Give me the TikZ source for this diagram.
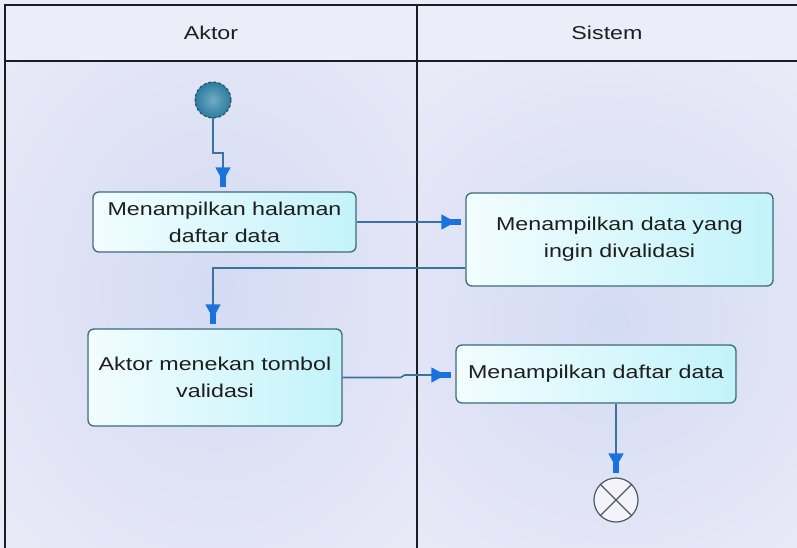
\documentclass[tikz,border=0pt]{standalone}
\usepackage{fontspec}
\setmainfont{Liberation Sans}
\newfontfamily\lblfont[FakeStretch=1.25]{Liberation Sans}
\usetikzlibrary{arrows.meta}

\definecolor{lanebg}{HTML}{ECEBF8}
\definecolor{headbg}{HTML}{EDEDFA}
\definecolor{glow}{HTML}{D3DBF3}
\definecolor{frameline}{HTML}{1C1C22}
\definecolor{boxline}{HTML}{3E6A7A}
\definecolor{boxleft}{HTML}{F2FDFF}
\definecolor{boxright}{HTML}{C3F3FA}
\definecolor{flowline}{HTML}{3B72A0}
\definecolor{flowtip}{HTML}{1C72DC}
\definecolor{startfill}{HTML}{2A7CA0}
\definecolor{startline}{HTML}{1F4A62}
\definecolor{endline}{HTML}{4C5A62}
\definecolor{txt}{HTML}{1E1E1E}

\begin{document}
\begin{tikzpicture}[x=1pt,y=-1pt,
  lbl/.style={font=\lblfont\fontsize{18.6}{27}\selectfont, text=txt},
  activity/.style={lbl, draw=boxline, line width=1.3pt, rounded corners=6pt,
    left color=boxleft, right color=boxright, align=center, inner sep=0pt},
  flow/.style={draw=flowline, line width=1.6pt,
    -{Triangle[length=14pt,width=15pt,sep=-5pt,color=flowtip,fill=flowtip]Rectangle[length=11pt,width=6pt,color=flowtip,fill=flowtip]},
    shorten >=4pt},
  frame/.style={draw=frameline, line width=1.6pt}]

% canvas and swimlane backgrounds
\useasboundingbox (0,0) rectangle (797,548);
\fill[lanebg] (0,0) rectangle (797,548);

% soft glows behind the activities
\begin{scope}
  \clip (5,61) rectangle (417,548);
  \shade[inner color=glow, outer color=lanebg] (-115,-110) rectangle (545,690);
\end{scope}
\begin{scope}
  \clip (417,61) rectangle (797,548);
  \shade[inner color=glow, outer color=lanebg] (270,-20) rectangle (950,660);
\end{scope}

% header row
\fill[headbg] (5,5) rectangle (797,61);
\node[lbl] (hakt) at (211,33) {Aktor};
\node[lbl] (hsis) at (607,33) {Sistem};

% lane lines
\draw[frame] (5,548) -- (5,5) -- (797,5);
\draw[frame] (5,61) -- (797,61);
\draw[frame] (417,5) -- (417,548);

% initial and final nodes
\node[circle, minimum size=36pt, inner sep=0pt, draw=startline, densely dashed,
  line width=1pt, inner color=startfill!65!white, outer color=startfill] (start) at (213,100) {};
\node[circle, minimum size=44pt, inner sep=0pt, draw=endline, line width=1.2pt,
  fill=lanebg!60!white] (fin) at (616,500) {};
\draw[endline, line width=1.2pt] (fin.north west) -- (fin.south east);
\draw[endline, line width=1.2pt] (fin.north east) -- (fin.south west);

% activities
\node[activity, minimum width=263pt, minimum height=60pt] (a1) at (224.5,222)
  {Menampilkan halaman\\daftar data};
\node[activity, minimum width=307pt, minimum height=93pt] (s1) at (619.5,239.5)
  {Menampilkan data yang\\ingin divalidasi};
\node[activity, minimum width=254pt, minimum height=97pt] (a2) at (215,377.5)
  {Aktor menekan tombol\\validasi};
\node[activity, minimum width=280pt, minimum height=58pt] (s2) at (596,374)
  {Menampilkan daftar data};

% control flows
\coordinate (j1) at (223,153);
\draw[flow] (start.south) -- (start.south |- j1) -- (j1) -- (j1 |- a1.north);
\draw[flow] (a1.east) -- (a1.east -| s1.west);
\coordinate (j2) at (213,268);
\draw[flow] (j2 -| s1.west) -- (j2) -- (j2 |- a2.north);
\draw[flow] (a2.east) -- ++(58,0) -- ++(4,-2.5) -- (s2.west |- 0,375);
\draw[flow] (fin.north |- s2.south) -- (fin.north);
\end{tikzpicture}
\end{document}
